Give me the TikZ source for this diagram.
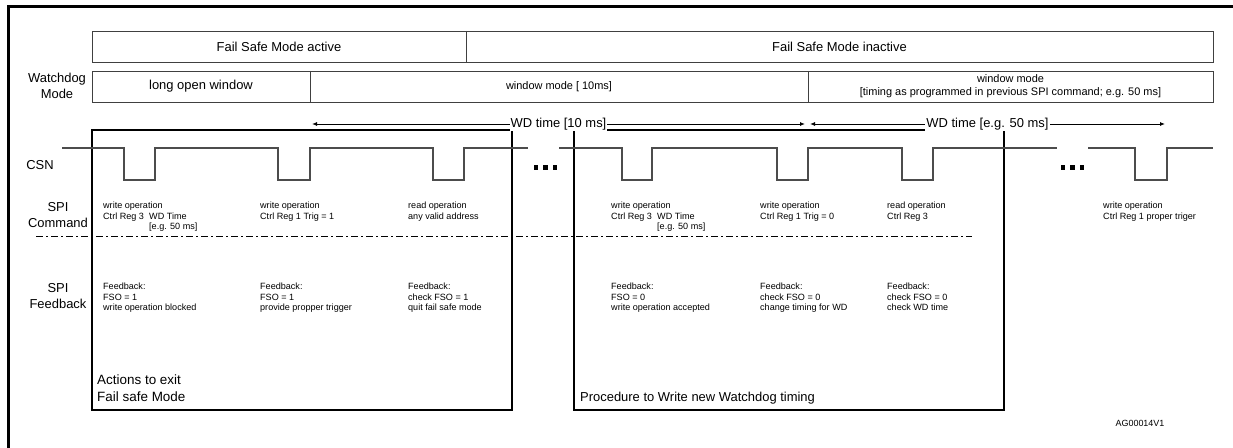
\documentclass[tikz,border=0pt]{standalone}
\usepackage{fontspec}
\setmainfont{Liberation Sans}
\usetikzlibrary{arrows.meta}
\tikzset{
  rowbox/.style={draw=black!75, line width=0.9bp},
  actbox/.style={draw=black, line width=1.1bp},
  wave/.style={draw=black!70, line width=1.1bp},
  big/.style={font=\fontsize{13}{15}\selectfont, inner sep=0pt},
  mid/.style={font=\fontsize{11}{13}\selectfont, inner sep=0pt, align=center},
  small/.style={font=\fontsize{9.1}{10.4}\selectfont, inner sep=0pt, align=left, anchor=north west},
  lbl/.style={font=\fontsize{13}{15.5}\selectfont, inner sep=0pt, align=center},
  wdarrow/.style={line width=0.9bp, {Latex[length=5bp,width=4bp]}-{Latex[length=5bp,width=4bp]}},
  dotsq/.style={fill=black},
}
\begin{document}
\begin{tikzpicture}[x=1bp,y=-1bp]
\useasboundingbox (0,0) rectangle (1233,448);
% outer frame
\draw[line width=2.6bp] (8.5,448) -- (8.5,6.5) -- (1233,6.5);
% fail safe row
\draw[rowbox] (92,31) rectangle (1213,62);
\draw[rowbox] (466,31) -- (466,62);
\node[big] (fsa) at (279,46.5) {Fail Safe Mode active};
\node[big] (fsi) at (839.5,46.5) {Fail Safe Mode inactive};
% watchdog row
\draw[rowbox] (92,71) rectangle (1213,102);
\draw[rowbox] (310,71) -- (310,102);
\draw[rowbox] (808,71) -- (808,102);
\node[lbl] (wdm) at (57,86) {Watchdog\\Mode};
\node[big] (low) at (201,86.5) {long open window};
\node[mid] (wm10) at (559,86.5) {window mode [ 10ms]};
\node[mid] (wm50) at (1010.5,86.5) {window mode\\{[}timing as programmed in previous SPI command; e.g. 50 ms{]}};
% action boxes
\draw[actbox] (92,130) rectangle (512,410);
\draw[actbox] (574,130) rectangle (1004,410);
% WD time arrows
\coordinate (a1l) at (312,124);
\coordinate (a1r) at (805,124);
\coordinate (a2l) at (810,124);
\coordinate (a2r) at (1165,124);
\draw[wdarrow] (a1l) -- node[big, fill=white, inner sep=1bp] (wd10) {WD time [10 ms]} (a1r);
\draw[wdarrow] (a2l) -- node[big, fill=white, inner sep=1bp] (wd50) {WD time [e.g. 50 ms]} (a2r);
% CSN
\node[lbl] (csn) at (40,165) {CSN};
\draw[wave] (62,148) -- (124,148) -- (124,180) -- (155,180) -- (155,148) -- (278,148) -- (278,180) -- (310,180) -- (310,148) -- (433,148) -- (433,180) -- (464,180) -- (464,148) -- (528,148);
\draw[wave] (559,148) -- (622,148) -- (622,180) -- (652,180) -- (652,148) -- (777,148) -- (777,180) -- (808,180) -- (808,148) -- (902,148) -- (902,180) -- (933,180) -- (933,148) -- (1057,148);
\draw[wave] (1088,148) -- (1135,148) -- (1135,180) -- (1167,180) -- (1167,148) -- (1213,148);
\foreach \xx in {533.5,543,552.5,1060.5,1070,1079.5}{
  \fill[dotsq] (\xx,165.5) rectangle ++(4.5,4.5);
}
% SPI command
\node[lbl] (cmd) at (58,215) {SPI\\Command};
\node[small] (c1) at (103,202) {write operation\\Ctrl Reg 3};
\node[small] (c1b) at (149,212.4) {WD Time\\{[}e.g. 50 ms{]}};
\node[small] (c2) at (260,202) {write operation\\Ctrl Reg 1 Trig = 1};
\node[small] (c3) at (408,202) {read operation\\any valid address};
\node[small] (c4) at (611,202) {write operation\\Ctrl Reg 3};
\node[small] (c4b) at (657,212.4) {WD Time\\{[}e.g. 50 ms{]}};
\node[small] (c5) at (760,202) {write operation\\Ctrl Reg 1 Trig = 0};
\node[small] (c6) at (887,202) {read operation\\Ctrl Reg 3};
\node[small] (c7) at (1103,202) {write operation\\Ctrl Reg 1 proper triger};
% separator
\coordinate (sepl) at (36,236);
\coordinate (sepr) at (972,236);
\draw[line width=0.9bp, dash pattern=on 7bp off 3bp on 2bp off 3bp] (sepl) -- (sepr);
% SPI feedback
\node[lbl] (fb) at (58,296) {SPI\\Feedback};
\node[small] (f1) at (103,283) {Feedback:\\FSO = 1\\write operation blocked};
\node[small] (f2) at (260,283) {Feedback:\\FSO = 1\\provide propper trigger};
\node[small] (f3) at (408,283) {Feedback:\\check FSO = 1\\quit fail safe mode};
\node[small] (f4) at (611,283) {Feedback:\\FSO = 0\\write operation accepted};
\node[small] (f5) at (760,283) {Feedback:\\check FSO = 0\\change timing for WD};
\node[small] (f6) at (887,283) {Feedback:\\check FSO = 0\\check WD time};
% box labels
\node[font=\fontsize{13.5}{17}\selectfont, inner sep=0pt, align=left, anchor=north west] (act) at (97,375) {Actions to exit\\Fail safe Mode};
\node[font=\fontsize{13}{15}\selectfont, inner sep=0pt, anchor=north west] (proc) at (580,392) {Procedure to Write new Watchdog timing};
\node[font=\fontsize{9}{11}\selectfont, inner sep=0pt] (ag) at (1140,423) {AG00014V1};
\end{tikzpicture}
\end{document}
